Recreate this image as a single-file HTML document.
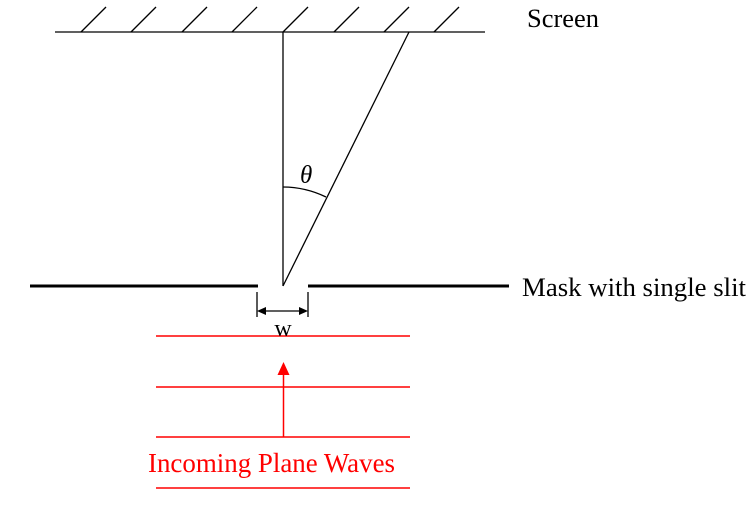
<!DOCTYPE html>
<html><head><meta charset="utf-8"><style>
html,body{margin:0;padding:0;background:#fff;}
svg{display:block;}
text{font-family:"Liberation Serif",serif;}
</style></head><body>
<svg width="755" height="509" viewBox="0 0 755 509" xmlns="http://www.w3.org/2000/svg">
<g stroke="#000" stroke-width="1.3" fill="none">
<line x1="55" y1="32" x2="485" y2="32"/>
<line x1="81" y1="32" x2="106" y2="7"/>
<line x1="131" y1="32" x2="156" y2="7"/>
<line x1="182" y1="32" x2="207" y2="7"/>
<line x1="232" y1="32" x2="257" y2="7"/>
<line x1="283" y1="32" x2="308" y2="7"/>
<line x1="334" y1="32" x2="359" y2="7"/>
<line x1="384" y1="32" x2="409" y2="7"/>
<line x1="434" y1="32" x2="459" y2="7"/>
<line x1="283" y1="32" x2="283" y2="286"/>
<line x1="283" y1="286" x2="409" y2="32"/>
<path d="M283 187 A99 99 0 0 1 326 197"/>
<line x1="257" y1="292" x2="257" y2="317"/>
<line x1="308" y1="292" x2="308" y2="317"/>
<line x1="264" y1="311" x2="301" y2="311"/>
</g>
<polygon points="257,311 266,307 266,315" fill="#000"/>
<polygon points="308,311 299,307 299,315" fill="#000"/>
<g stroke="#000" stroke-width="3">
<line x1="30" y1="286" x2="258" y2="286"/>
<line x1="308" y1="286" x2="509" y2="286"/>
</g>
<g stroke="#f00" stroke-width="1.5">
<line x1="156" y1="336" x2="410" y2="336"/>
<line x1="156" y1="387" x2="410" y2="387"/>
<line x1="156" y1="437" x2="410" y2="437"/>
<line x1="156" y1="488" x2="410" y2="488"/>
<line x1="283.5" y1="437" x2="283.5" y2="372"/>
</g>
<polygon points="283.5,362 277.5,375 289.5,375" fill="#f00"/>
<text x="527" y="27" font-size="26" textLength="72" lengthAdjust="spacingAndGlyphs">Screen</text>
<text x="522" y="296" font-size="26" textLength="224" lengthAdjust="spacingAndGlyphs">Mask with single slit</text>
<text x="300" y="183" font-size="25" font-style="italic">θ</text>
<text x="283" y="336" font-size="24" text-anchor="middle">w</text>
<text x="148" y="472" font-size="27" fill="#f00" textLength="247" lengthAdjust="spacingAndGlyphs">Incoming Plane Waves</text>
</svg>
</body></html>
